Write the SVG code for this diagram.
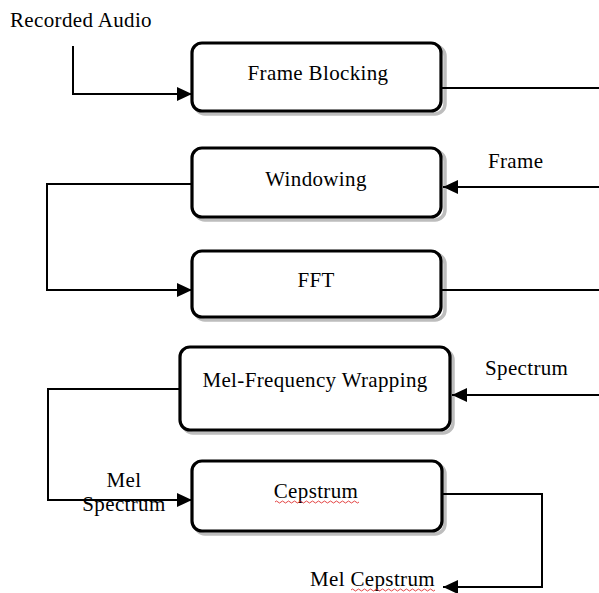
<svg xmlns="http://www.w3.org/2000/svg" width="599" height="593" viewBox="0 0 599 593">
<style>
.box{fill:#fff;stroke:#000;stroke-width:3.2}
.shd{fill:none;stroke:#bdbdbd;stroke-width:3.5}
.t{font-family:"Liberation Serif","Times New Roman",serif;font-size:21px;letter-spacing:0.35px;fill:#000}
.c{fill:none;stroke:#000;stroke-width:2}
.sq{fill:none;stroke:#e03030;stroke-width:0.9}
</style>
<defs>
<marker id="ah" markerUnits="userSpaceOnUse" markerWidth="16" markerHeight="14" refX="15" refY="7" orient="auto">
<path d="M0,0 L15,7 L0,14 Z" fill="#000"/>
</marker>
</defs>
<rect width="599" height="593" fill="#fff"/>
<g id="frame-blocking">
<rect class="shd" x="195" y="46" width="250" height="68" rx="10"/>
<rect class="box" x="192" y="43" width="249" height="68" rx="10"/>
<text class="t" x="318" y="80" text-anchor="middle">Frame Blocking</text>
</g>
<g id="windowing">
<rect class="shd" x="195" y="151" width="250" height="69" rx="10"/>
<rect class="box" x="192" y="148" width="249" height="69" rx="10"/>
<text class="t" x="316" y="186" text-anchor="middle">Windowing</text>
</g>
<g id="fft">
<rect class="shd" x="195" y="254" width="250" height="66" rx="10"/>
<rect class="box" x="192" y="251" width="249" height="66" rx="10"/>
<text class="t" x="316" y="287" text-anchor="middle">FFT</text>
</g>
<g id="mel-frequency-wrapping">
<rect class="shd" x="183" y="350" width="270" height="83" rx="10"/>
<rect class="box" x="180" y="347" width="270" height="83" rx="10"/>
<text class="t" x="315" y="387" text-anchor="middle" letter-spacing="0">Mel-Frequency Wrapping</text>
</g>
<g id="cepstrum">
<rect class="shd" x="195" y="464" width="250" height="70" rx="10"/>
<rect class="box" x="192" y="461" width="250" height="70" rx="10"/>
<text class="t" x="316" y="498" text-anchor="middle">Cepstrum</text>
<path class="sq" d="M275,502 q1.5,-2 3,0 t3,0 t3,0 t3,0 t3,0 t3,0 t3,0 t3,0 t3,0 t3,0 t3,0 t3,0 t3,0 t3,0 t3,0 t3,0 t3,0 t3,0 t3,0 t3,0 t3,0 t3,0 t3,0 t3,0 t3,0 t3,0 t3,0 t3,0"/>
</g>
<g id="connectors">
<path class="c" d="M73,46 V94 H192" marker-end="url(#ah)"/>
<path class="c" d="M441,88 H599"/>
<path class="c" d="M599,187 H443" marker-end="url(#ah)"/>
<path class="c" d="M192,184 H47 V290 H192" marker-end="url(#ah)"/>
<path class="c" d="M441,290 H599"/>
<path class="c" d="M599,395 H452" marker-end="url(#ah)"/>
<path class="c" d="M180,389 H48 V500 H192" marker-end="url(#ah)"/>
<path class="c" d="M442,494 H542 V587 H443" marker-end="url(#ah)"/>
</g>
<g id="labels">
<text class="t" x="10" y="27">Recorded Audio</text>
<text class="t" x="488" y="168">Frame</text>
<text class="t" x="485" y="375">Spectrum</text>
<text class="t" x="124" y="487" text-anchor="middle">Mel</text>
<text class="t" x="124" y="511" text-anchor="middle">Spectrum</text>
<text class="t" x="310" y="586">Mel Cepstrum</text>
<path class="sq" d="M351,590 q1.5,-2 3,0 t3,0 t3,0 t3,0 t3,0 t3,0 t3,0 t3,0 t3,0 t3,0 t3,0 t3,0 t3,0 t3,0 t3,0 t3,0 t3,0 t3,0 t3,0 t3,0 t3,0 t3,0 t3,0 t3,0 t3,0 t3,0 t3,0 t3,0"/>
</g>
</svg>
